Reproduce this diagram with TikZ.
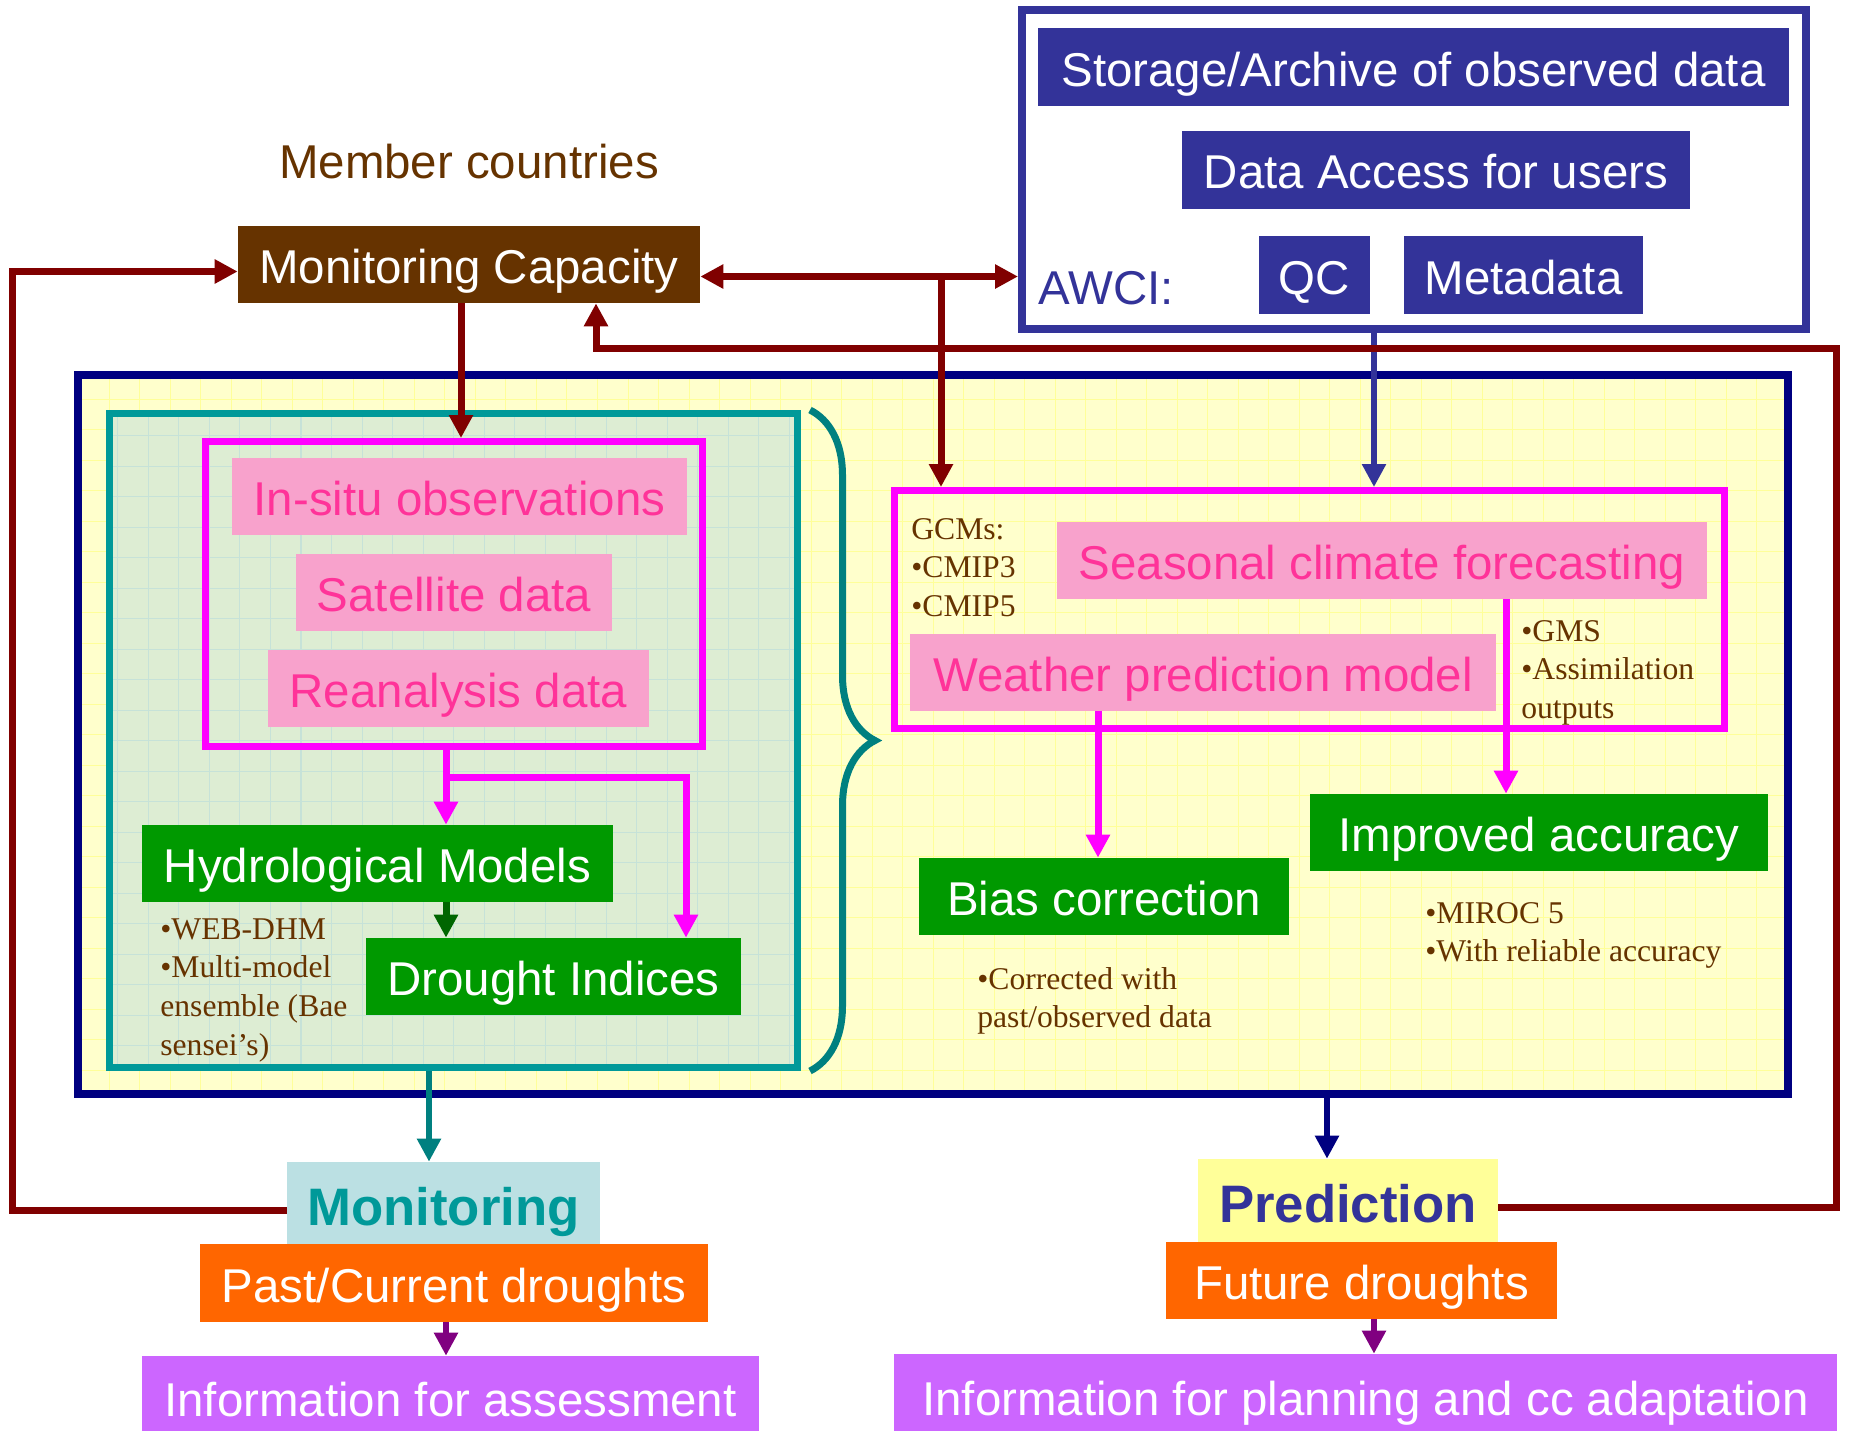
\documentclass[tikz,border=0pt]{standalone}
\usepackage{fontspec}
\setmainfont{Liberation Sans}
\newfontfamily\notefont{Liberation Serif}
\usetikzlibrary{arrows.meta, decorations.pathreplacing}
\definecolor{navyc}{HTML}{000080}
\definecolor{awcic}{HTML}{333399}
\definecolor{mrnc}{HTML}{800000}
\definecolor{brnc}{HTML}{663300}
\definecolor{tealc}{HTML}{009999}
\definecolor{bracec}{HTML}{008080}
\definecolor{pinkc}{HTML}{F8A2CC}
\definecolor{pinkt}{HTML}{FF3399}
\definecolor{magc}{HTML}{FF00FF}
\definecolor{grnc}{HTML}{009900}
\definecolor{dgrnc}{HTML}{006600}
\definecolor{orgc}{HTML}{FF6600}
\definecolor{purc}{HTML}{CC66FF}
\definecolor{dpurc}{HTML}{800080}
\definecolor{yelc}{HTML}{FFFFCC}
\definecolor{yelg}{HTML}{FFFF99}
\definecolor{lgrc}{HTML}{DDEDD3}
\definecolor{lgrg}{HTML}{C6E2D8}
\definecolor{monc}{HTML}{BBE0E3}
\definecolor{predc}{HTML}{FFFF99}

\begin{document}
\begin{tikzpicture}[x=0.2mm, y=-0.2mm, >={Triangle[length=4.6mm, width=4.6mm]},
      font=\fontsize{27}{32}\selectfont,
      box/.style={inner sep=0pt, minimum height=15.4mm, text height=9.4mm, text depth=1.8mm},
      awbox/.style={box, fill=awcic, text=white, minimum height=15.6mm},
      pinkbox/.style={box, fill=pinkc, text=pinkt},
      grnbox/.style={box, fill=grnc, text=white},
      orgbox/.style={box, fill=orgc, text=white},
      infobox/.style={box, fill=purc, text=white},
      keybox/.style={box, font=\fontsize{30}{36}\selectfont\bfseries, text height=10.6mm},
      panel/.style={inner sep=0pt, line width=1.4mm},
      gridfill/.style={path picture={\draw[#1, line width=0.2mm, step=6.1mm]
          (path picture bounding box.south west) grid (path picture bounding box.north east);}},
      note/.style={font=\notefont\fontsize{18}{22}\selectfont, text=brnc, align=left,
                   anchor=north west, inner sep=0pt},
      ar/.style={->, line width=1.4mm},
      arthin/.style={->, line width=1.1mm}]
    \useasboundingbox[fill=white] (0,0) rectangle (1849,1430);

    % AWCI side
    \node[panel, draw=awcic, fill=white, line width=1.6mm, minimum width=156.8mm,
          minimum height=63.8mm] (awci) at (1414,169.5) {};
    \node[awbox, minimum width=150.2mm] (store) at (1413.5,67) {Storage/Archive of observed data};
    \node[awbox, minimum width=101.6mm] (access) at (1436,169.5) {Data Access for users};
    \node[awbox, minimum width=22.2mm] (qc) at (1314.5,275) {QC};
    \node[awbox, minimum width=47.8mm] (meta) at (1523.5,275) {Metadata};
    \node[text=awcic, anchor=west, inner sep=0pt] (awlbl) at (1038,288) {AWCI:};

    % member countries
    \node[text=brnc] (member) at (469,162) {Member countries};
    \node[box, fill=brnc, text=white, minimum width=92.4mm] (mc) at (469,264.5) {Monitoring Capacity};

    % big panels
    \node[panel, draw=navyc, fill=yelc, gridfill=yelg, line width=1.6mm, minimum width=342mm,
          minimum height=143.8mm] (main) at (933,734.5) {};
    \node[panel, draw=tealc, fill=lgrc, gridfill=lgrg, minimum width=137.6mm,
          minimum height=130.8mm] (tealbox) at (453.5,740.5) {};
    \draw[bracec, line width=1.4mm, decorate, decoration={brace, amplitude=13mm}]
      (810,410) -- (810,1071);
    \node[panel, draw=magc, minimum width=99.4mm, minimum height=61mm] (obs) at (454,594) {};
    \node[panel, draw=magc, minimum width=166mm, minimum height=47.6mm] (gcm) at (1309.5,609.5) {};

    % monitoring side
    \node[pinkbox, minimum width=91mm] (insitu) at (459.5,496.5) {In-situ observations};
    \node[pinkbox, minimum width=63.2mm] (sat) at (454,592.5) {Satellite data};
    \node[pinkbox, minimum width=76.2mm] (rean) at (458.5,688.5) {Reanalysis data};
    \node[grnbox, minimum width=94.2mm] (hyd) at (377.5,863.5) {Hydrological Models};
    \node[grnbox, minimum width=75mm] (drt) at (553.5,976.5) {Drought Indices};
    \node[note] (hydnote) at (160,918) {\textbullet WEB-DHM\\\textbullet Multi-model\\ensemble (Bae\\sensei’s)};

    % prediction side
    \node[pinkbox, minimum width=130mm] (ssn) at (1382,560.5) {Seasonal climate forecasting};
    \node[pinkbox, minimum width=117.2mm] (wx) at (1203,672.5) {Weather prediction model};
    \node[note] (gcmnote) at (911,518) {GCMs:\\\textbullet CMIP3\\\textbullet CMIP5};
    \node[note] (gmsnote) at (1521,620) {\textbullet GMS\\\textbullet Assimilation\\outputs};
    \node[grnbox, minimum width=91.6mm] (imp) at (1539,832.5) {Improved accuracy};
    \node[grnbox, minimum width=74mm] (bias) at (1104,896.5) {Bias correction};
    \node[note] (mirnote) at (1425,902) {\textbullet MIROC 5\\\textbullet With reliable accuracy};
    \node[note] (biasnote) at (977,967) {\textbullet Corrected with\\past/observed data};

    % outputs
    \node[keybox, fill=monc, text=tealc, minimum width=62.6mm, minimum height=16.4mm] (mon) at (443.5,1203) {Monitoring};
    \node[keybox, fill=predc, text=awcic, minimum width=60mm, minimum height=16.6mm] (pred) at (1348,1200.5) {Prediction};
    \node[orgbox, minimum width=101.6mm, minimum height=15.6mm] (past) at (454,1283) {Past/Current droughts};
    \node[orgbox, minimum width=78.2mm] (fut) at (1361.5,1280.5) {Future droughts};
    \node[infobox, minimum width=123.4mm, minimum height=16.4mm] (infoa) at (450.5,1397) {Information for assessment};
    \node[infobox, minimum width=188.6mm, minimum height=16.8mm] (infop) at (1365.5,1396) {Information for planning and cc adaptation};

    % connectors
    \coordinate (lft) at (12,0);
    \coordinate (tap) at (941,277);
    \coordinate (ret) at (596,348);
    \coordinate (rgt) at (1836,348);
    \coordinate (br) at (446,777);
    \draw[arthin, awcic] ([xshift=-8mm]awci.south) -- ([xshift=-8mm]awci.south |- gcm.north);
    \draw[ar, mrnc] ([yshift=-1.4mm]mon.west) -- ([yshift=-1.4mm]mon.west -| lft)
      -- ([yshift=-1.4mm]mc.west -| lft) -- ([yshift=-1.4mm]mc.west);
    \draw[ar, mrnc, <->] ([yshift=-2.4mm]mc.east) -- ([yshift=-2.4mm]mc.east -| awci.west);
    \draw[ar, mrnc] (tap) -- (tap |- gcm.north);
    \draw[ar, mrnc] ([yshift=-1.3mm]pred.east) -| (rgt) -- (ret) -- (ret |- mc.south);
    \draw[ar, mrnc] ([xshift=-1.6mm]mc.south) -- ([xshift=-1.6mm]mc.south |- obs.north);
    \draw[ar, magc] (obs.south -| br) -- (hyd.north -| br);
    \draw[ar, magc] (br) -| ([xshift=26.5mm]drt.north);
    \draw[ar, dgrnc] (hyd.south -| br) -- (drt.north -| br);
    \draw[ar, magc] ([xshift=-21mm]wx.south) -- ([xshift=-21mm]wx.south |- bias.north);
    \draw[ar, magc] ([xshift=24.8mm]ssn.south) -- ([xshift=24.8mm]ssn.south |- imp.north);
    \draw[arthin, bracec] ([xshift=-4.9mm]tealbox.south) -- ([xshift=-4.9mm]tealbox.south |- mon.north);
    \draw[arthin, navyc] ([xshift=78.8mm]main.south) -- ([xshift=78.8mm]main.south |- pred.north);
    \draw[arthin, dpurc] ([xshift=-1.6mm]past.south) -- ([xshift=-1.6mm]past.south |- infoa.north);
    \draw[arthin, dpurc] ([xshift=2.5mm]fut.south) -- ([xshift=2.5mm]fut.south |- infop.north);
  \end{tikzpicture}
\end{document}
